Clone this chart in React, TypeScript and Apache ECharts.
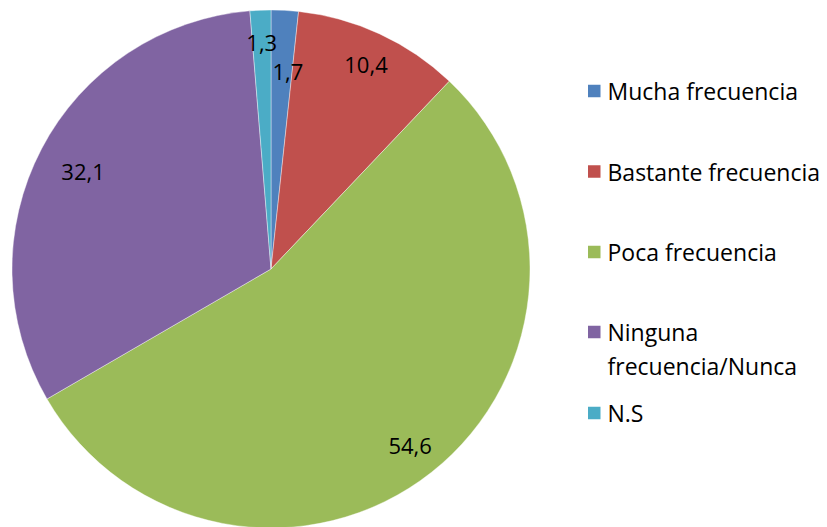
import React, { useEffect, useRef } from "react";
import * as echarts from "echarts";

const categories = [
  "Mucha frecuencia",
  "Bastante frecuencia",
  "Poca frecuencia",
  "Ninguna frecuencia/Nunca",
  "N.S",
];
const values = [1.7, 10.4, 54.6, 32.1, 1.3];
const valueLabels = ["1,7", "10,4", "54,6", "32,1", "1,3"];
const legendLabels = [
  "Mucha frecuencia",
  "Bastante frecuencia",
  "Poca frecuencia",
  "Ninguna\nfrecuencia/Nunca",
  "N.S",
];

// styles
const colors = ["#4F81BD", "#C0504D", "#9BBB59", "#8064A2", "#4BACC6"];
const labelRadiusFrac = [0.767, 0.874, 0.867, 0.819, 0.877];
const labelAngleShift = [1.8, 0, 0, 0, 0];
const legendCenters = [91, 171.5, 252, 332, 413];
const CX = 271;
const CY = 269;
const R = 259;
const FONT = "'Open Sans', Lato, sans-serif";
const FS = 23;
const LFS = 22;
const LH = 30;
const LH2 = 34;
const SQ = 12.5;

export default function App() {
  const ref = useRef<HTMLDivElement>(null);
  useEffect(() => {
    document.body.style.margin = "0";
    if (!ref.current) return;
    const chart = echarts.init(ref.current, undefined, { renderer: "svg" });
    const total = values.reduce((a, b) => a + b, 0);
    const midAngles: number[] = [];
    let acc = 0;
    values.forEach((v) => {
      midAngles.push(((acc + v / 2) / total) * 360);
      acc += v;
    });
    const legends = categories.map((name, i) => {
      const multi = legendLabels[i].includes("\n");
      const iconH = multi ? LH2 + SQ : SQ;
      return {
        orient: "vertical",
        left: 588,
        top: multi ? legendCenters[i] - LH2 / 2 : legendCenters[i] - LH / 2,
        itemWidth: SQ,
        itemHeight: iconH,
        icon: multi
          ? `path://M0,0H${SQ}V${SQ}H0Z M0,${iconH - 0.001}H0.001V${iconH}H0Z`
          : "rect",
        itemStyle: { borderWidth: 0 },
        selectedMode: false,
        padding: 0,
        data: [name],
        formatter: () => legendLabels[i],
        textStyle: {
          fontFamily: FONT,
          fontSize: FS,
          lineHeight: multi ? LH2 : LH,
          color: "#000",
          padding: [0, 0, 0, 2],
        },
      };
    });
    chart.setOption({
      animation: false,
      backgroundColor: "#fff",
      color: colors,
      legend: legends,
      series: [
        {
          type: "pie",
          center: [CX, CY],
          radius: R,
          startAngle: 90,
          clockwise: true,
          avoidLabelOverlap: false,
          data: categories.map((name, i) => ({ name, value: values[i] })),
          itemStyle: { borderColor: "#fff", borderWidth: 0.4 },
          label: {
            show: true,
            position: "inside",
            formatter: (p: any) => valueLabels[p.dataIndex],
            fontFamily: FONT,
            fontSize: LFS,
            color: "#000",
          },
          labelLine: { show: false },
          labelLayout: (p: any) => {
            const i = p.dataIndex;
            const a = ((midAngles[i] + labelAngleShift[i]) * Math.PI) / 180;
            const rr = labelRadiusFrac[i] * R;
            return {
              x: CX + rr * Math.sin(a),
              y: CY - rr * Math.cos(a),
              align: "center",
              verticalAlign: "middle",
            };
          },
          emphasis: { disabled: true },
        },
      ],
    });
    return () => chart.dispose();
  }, []);
  return <div ref={ref} style={{ width: 827, height: 527 }} />;
}
